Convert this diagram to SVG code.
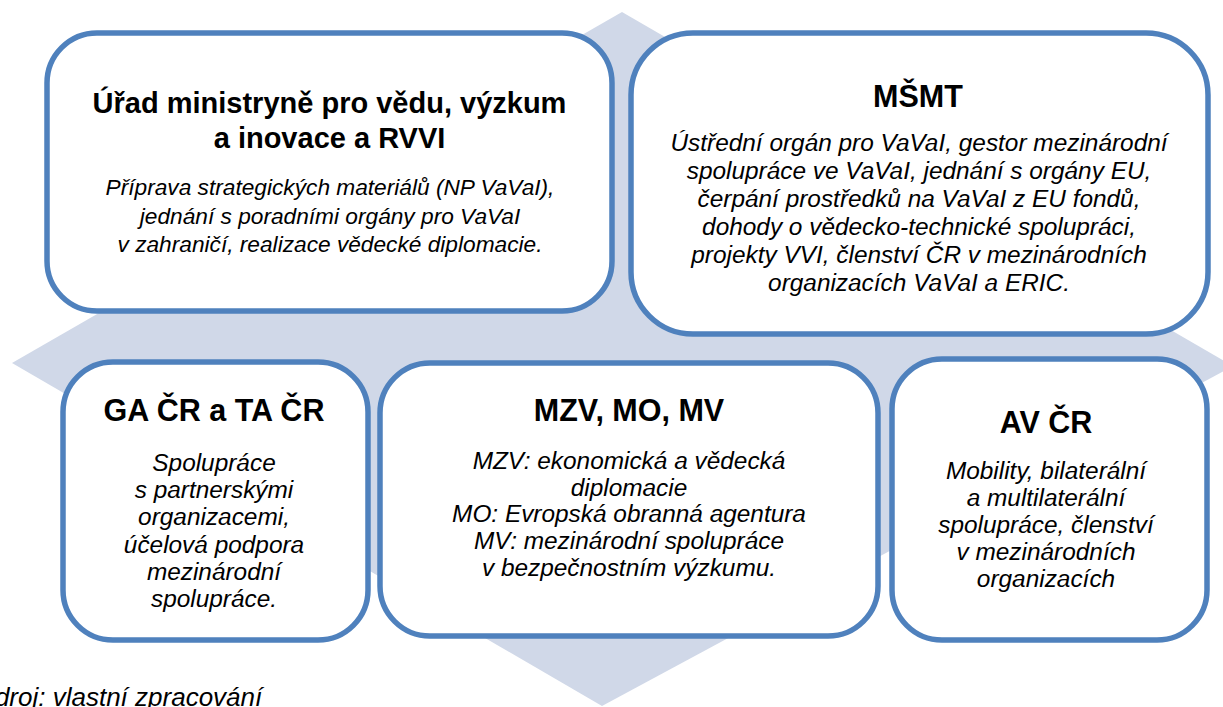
<svg xmlns="http://www.w3.org/2000/svg" width="1223" height="707" viewBox="0 0 1223 707">
<style>
.bg{fill:#D0D8E8;stroke:none}
.box{fill:#FFFFFF;stroke:#4F81BD;stroke-width:5.5}
.t{font-family:"Liberation Sans",Arial,sans-serif;font-weight:bold;font-size:30.5px;fill:#000;text-anchor:middle}
.t1{font-size:29px}
.d{font-family:"Liberation Sans",Arial,sans-serif;font-style:italic;font-size:24.4px;fill:#000;text-anchor:middle}
.d1{font-size:22.7px}
.cap{font-family:"Liberation Sans",Arial,sans-serif;font-style:italic;font-size:26px;fill:#000}
</style>
<polygon class="bg" points="622,12 1233,366 602,706 12,363"/>
<g id="connectors"></g>
<g id="node-urad">
<rect class="box" x="47" y="33" width="565" height="278" rx="50" ry="50"/>
<text class="t t1" x="329.5" y="113">Úřad ministryně pro vědu, výzkum</text>
<text class="t t1" x="329.5" y="148">a inovace a RVVI</text>
<text class="d d1" x="330" y="195">Příprava strategických materiálů (NP VaVaI),</text>
<text class="d d1" x="330" y="224">jednání s poradními orgány pro VaVaI</text>
<text class="d d1" x="330" y="252">v zahraničí, realizace vědecké diplomacie.</text>
</g>
<g id="node-msmt">
<rect class="box" x="631" y="33" width="577" height="301" rx="62" ry="62"/>
<text class="t" x="918" y="107">MŠMT</text>
<text class="d" x="919" y="151">Ústřední orgán pro VaVaI, gestor mezinárodní</text>
<text class="d" x="919" y="179">spolupráce ve VaVaI, jednání s orgány EU,</text>
<text class="d" x="919" y="207">čerpání prostředků na VaVaI z EU fondů,</text>
<text class="d" x="919" y="235">dohody o vědecko-technické spolupráci,</text>
<text class="d" x="919" y="263">projekty VVI, členství ČR v mezinárodních</text>
<text class="d" x="919" y="291">organizacích VaVaI a ERIC.</text>
</g>
<g id="node-gacr">
<rect class="box" x="63" y="362" width="305" height="278" rx="50" ry="50"/>
<text class="t" x="214" y="421">GA ČR a TA ČR</text>
<text class="d" x="214" y="471">Spolupráce</text>
<text class="d" x="214" y="498">s partnerskými</text>
<text class="d" x="214" y="525">organizacemi,</text>
<text class="d" x="214" y="553">účelová podpora</text>
<text class="d" x="214" y="580">mezinárodní</text>
<text class="d" x="214" y="607">spolupráce.</text>
</g>
<g id="node-mzv">
<rect class="box" x="380" y="363" width="498" height="273" rx="50" ry="50"/>
<text class="t" x="629" y="421">MZV, MO, MV</text>
<text class="d" x="629" y="469">MZV: ekonomická a vědecká</text>
<text class="d" x="629" y="496">diplomacie</text>
<text class="d" x="629" y="522">MO: Evropská obranná agentura</text>
<text class="d" x="629" y="549">MV: mezinárodní spolupráce</text>
<text class="d" x="629" y="576">v bezpečnostním výzkumu.</text>
</g>
<g id="node-avcr">
<rect class="box" x="892" y="359" width="315" height="281" rx="50" ry="50"/>
<text class="t" x="1046" y="433">AV ČR</text>
<text class="d" x="1046" y="479">Mobility, bilaterální</text>
<text class="d" x="1046" y="506">a multilaterální</text>
<text class="d" x="1046" y="533">spolupráce, členství</text>
<text class="d" x="1046" y="560">v mezinárodních</text>
<text class="d" x="1046" y="587">organizacích</text>
</g>
<text class="cap" x="-21" y="706">Zdroj: vlastní zpracování</text>
</svg>
